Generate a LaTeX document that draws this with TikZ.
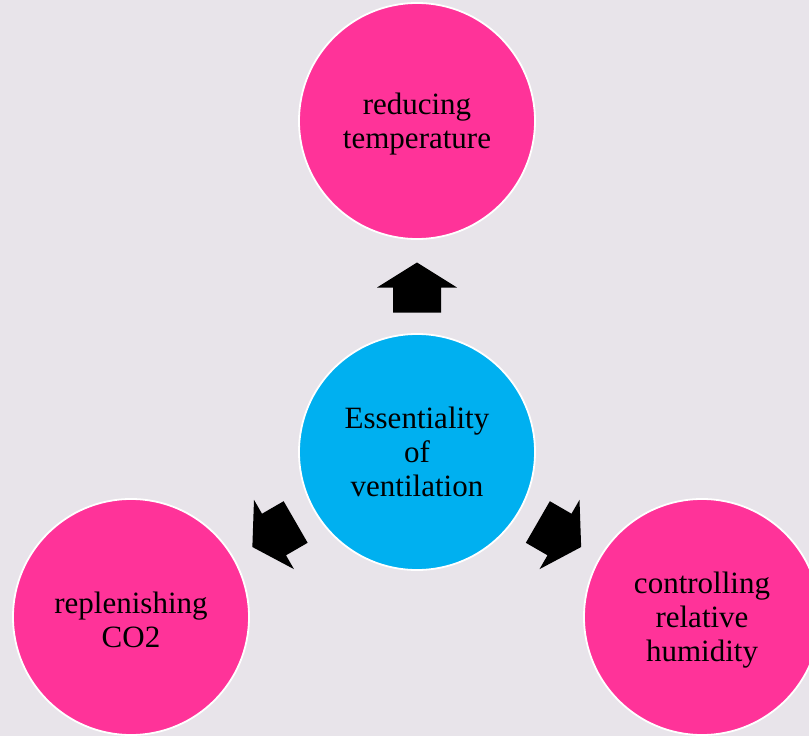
\documentclass[tikz,border=0pt]{standalone}
\usepackage{fontspec}
\setmainfont{Liberation Serif}
\usetikzlibrary{calc}
\definecolor{bgc}{RGB}{232,228,234}
\definecolor{pinkc}{RGB}{255,51,153}
\definecolor{cyanc}{RGB}{0,176,240}
\tikzset{
  bubble/.style={circle, minimum size=236pt, inner sep=0pt, draw=white, line width=1.8pt},
  outer/.style={bubble, fill=pinkc},
  inner/.style={bubble, fill=cyanc},
  txt/.style={align=center, font=\fontsize{31}{34}\selectfont, text=black, inner sep=0pt},
  blockarrow/.style={fill=black, draw=none}
}
\newcommand{\blockarr}[2]{%
  \fill[blockarrow, shift={(#1)}, rotate=#2]
    (-25pt,-24pt) -- (0pt,-24pt) -- (0pt,-40pt) -- (25pt,0pt) -- (0pt,40pt) -- (0pt,24pt) -- (-25pt,24pt) -- cycle;}
\begin{document}
\begin{tikzpicture}[x=1pt,y=-1pt]
\fill[bgc] (0,0) rectangle (809,736);
\useasboundingbox (0,0) rectangle (809,736);
\node[inner] (c) at (417,452) {};
\node[outer] (t) at (417,121) {};
\node[outer] (l) at (131,617) {};
\node[outer] (r) at (702,617) {};
\node[txt] (ct) at ($(c)+(0,0)$) {Essentiality\\of\\ventilation};
\node[txt] (tt) at ($(t)+(0,3)$) {reducing\\temperature};
\node[txt] (lt) at ($(l)+(0,3)$) {replenishing\\CO2};
\node[txt] (rt) at ($(r)+(0,3)$) {controlling\\relative\\humidity};
\coordinate (mt) at ($(c)!0.5!(t)+(0,1)$);
\coordinate (ml) at ($(c)!0.5!(l)$);
\coordinate (mr) at ($(c)!0.5!(r)$);
\blockarr{mt}{90}
\blockarr{ml}{210}
\blockarr{mr}{330}
\end{tikzpicture}
\end{document}
